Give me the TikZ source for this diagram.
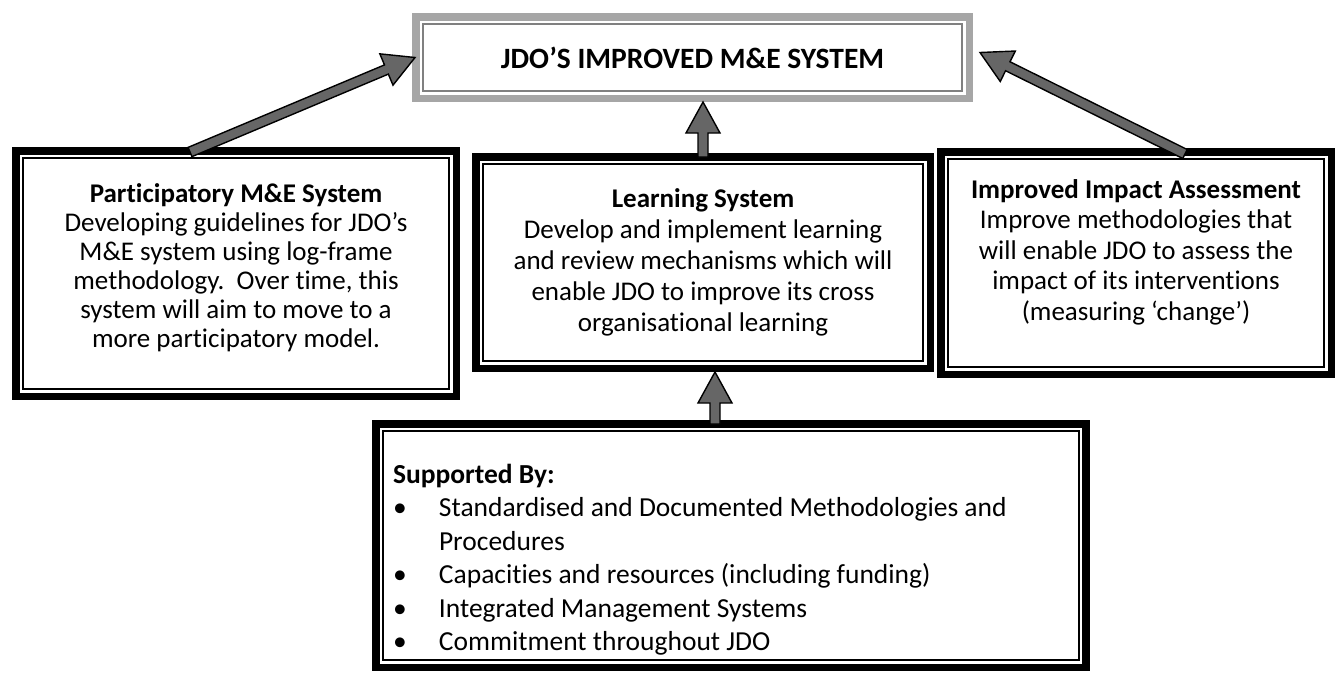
\documentclass[tikz,border=0pt]{standalone}
\usepackage{fontspec}
\setmainfont[Ligatures=NoCommon]{Carlito}
\usetikzlibrary{positioning, calc}
\tikzstyle{frame} = [draw=black, line width=7.5pt, align=flush center, fill=white, font=\fontsize{27}{30}\selectfont]
\tikzstyle{innerline} = [draw=black, line width=1.8pt]
\tikzstyle{fatarrow} = [draw=black, line width=1.4pt, fill=black!60, line join=miter]
% block arrow from #1 to #2
\newcommand{\blockarrow}[2]{%
  \coordinate (hb) at ($(#2)!31pt!(#1)$);
  \draw[fatarrow] ($(#1)!5pt!90:(#2)$) -- ($(hb)!5pt!-90:(#1)$) -- ($(hb)!17pt!-90:(#1)$) -- (#2)
    -- ($(hb)!17pt!90:(#1)$) -- ($(hb)!5pt!90:(#1)$) -- ($(#1)!5pt!-90:(#2)$) -- cycle;}
\newcommand{\bulitem}[1]{\makebox[46pt][l]{\textbullet}#1}

\begin{document}
\begin{tikzpicture}[x=1pt, y=-1pt]
    \fill[white] (0,0) rectangle (1335,673);
    \useasboundingbox (0,0) rectangle (1335,673);

    \node[frame, draw=black!35, minimum width=553.5pt, minimum height=81.5pt, font=\fontsize{29.5}{32}\selectfont\bfseries] (top) at (692.5,57.5) {JDO’S IMPROVED M\&E SYSTEM};

    \node[frame, minimum width=440.5pt, minimum height=245.5pt, font=\fontsize{27}{29}\selectfont] (part) at (236,273.5) {\textbf{Participatory M\&E System}\\Developing guidelines for JDO’s\\M\&E system using log-frame\\methodology.\ \ Over time, this\\system will aim to move to a\\more participatory model.\rule[-16pt]{0pt}{0pt}};
    \node[frame, minimum width=454.5pt, minimum height=211.5pt, font=\fontsize{27}{31}\selectfont] (learn) at (703,262.5) {\textbf{Learning System}\\Develop and implement learning\\and review mechanisms which will\\enable JDO to improve its cross\\organisational learning};
    \node[frame, minimum width=390.5pt, minimum height=222.5pt, font=\fontsize{27}{30.5}\selectfont] (impact) at (1136,263) {\textbf{Improved Impact Assessment}\\Improve methodologies that\\will enable JDO to assess the\\impact of its interventions\\(measuring ‘change’)\rule[-26pt]{0pt}{0pt}};

    \node[frame, align=flush left, text width=676pt, inner xsep=17pt, minimum height=243.5pt, font=\fontsize{27.5}{33.5}\selectfont] (support) at (731,545.5) {\rule{0pt}{48pt}\textbf{Supported By:}\\
        \bulitem{Standardised and Documented Methodologies and}\\
        \hspace*{46pt}Procedures\\
        \bulitem{Capacities and resources (including funding)}\\
        \bulitem{Integrated Management Systems}\\
        \bulitem{Commitment throughout JDO}};

    % thin inner lines of the frames
    \draw[innerline, draw=black!50, line width=1.5pt] ([shift={(11,11)}]top.north west) rectangle ([shift={(-11,-11)}]top.south east);
    \foreach \n in {part, learn, impact, support}
        \draw[innerline] ([shift={(11,11)}]\n.north west) rectangle ([shift={(-11,-11)}]\n.south east);

    % arrow ends
    \coordinate (part-out) at ([xshift=-46pt, yshift=-5pt]part.north);
    \coordinate (top-in-l) at ([xshift=3pt]top.west);
    \coordinate (impact-out) at ([xshift=49pt, yshift=-6pt]impact.north);
    \coordinate (top-in-r) at ([xshift=7pt, yshift=5pt]top.east);
    \coordinate (learn-out) at ([yshift=-4pt]learn.north);
    \coordinate (top-in-m) at (learn-out |- top.south);
    \coordinate (support-out) at ([xshift=-16pt, yshift=-4pt]support.north);
    \coordinate (learn-in) at (support-out |- learn.south);

    \blockarrow{part-out}{top-in-l}
    \blockarrow{impact-out}{top-in-r}
    \blockarrow{learn-out}{top-in-m}
    \blockarrow{support-out}{learn-in}
\end{tikzpicture}
\end{document}
